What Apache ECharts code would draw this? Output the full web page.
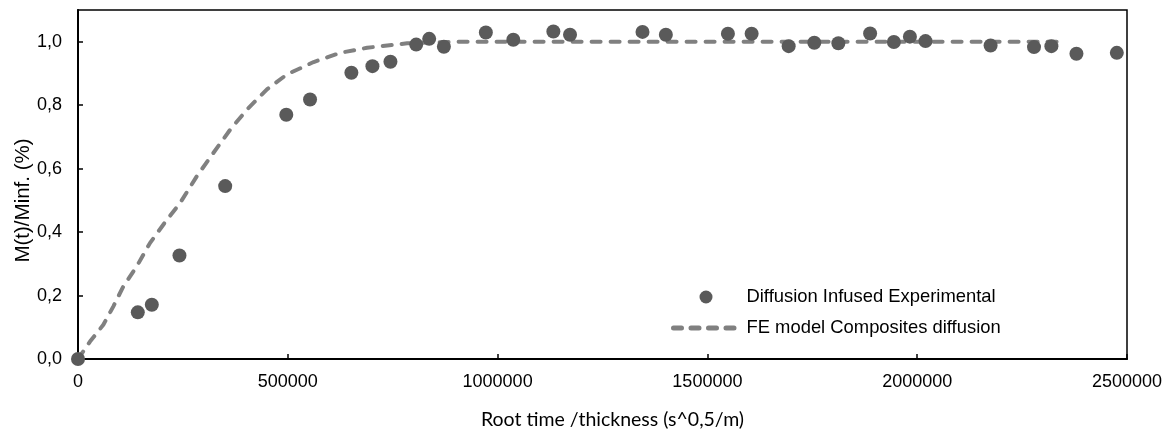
<!DOCTYPE html>
<html>
<head>
<meta charset="utf-8">
<script src="https://cdn.jsdelivr.net/npm/echarts@6/dist/echarts.min.js"></script>
<style>
html,body{margin:0;padding:0;background:#fff;}
#chart{width:1172px;height:435px;}
</style>
</head>
<body>
<div id="chart"></div>
<script>
var expX = [0, 142500, 175900, 241800, 350800, 496400, 553000, 651500, 701700, 744600,
  806000, 837000, 872000, 972000, 1037400, 1132900, 1172600, 1345300, 1401000, 1548900,
  1605400, 1693700, 1754800, 1812100, 1887800, 1944400, 1982600, 2019800, 2174900,
  2278400, 2319800, 2379500, 2475700];
var expY = [0, 0.147, 0.171, 0.326, 0.545, 0.770, 0.818, 0.902, 0.923, 0.937,
  0.991, 1.009, 0.984, 1.029, 1.006, 1.032, 1.022, 1.031, 1.022, 1.025,
  1.025, 0.986, 0.997, 0.995, 1.026, 0.999, 1.016, 1.002, 0.988,
  0.983, 0.986, 0.962, 0.965];
var modelX = [0, 28600, 60400, 84300, 108200, 140000, 171800, 208000, 243400, 283200,
  323000, 362800, 402600, 450300, 498000, 561600, 625300, 689000, 784400, 900000,
  1200000, 1600000, 2000000, 2356000];
var modelY = [0, 0.055, 0.108, 0.166, 0.229, 0.292, 0.366, 0.432, 0.492, 0.576,
  0.650, 0.723, 0.786, 0.850, 0.897, 0.936, 0.965, 0.981, 0.995, 1.0,
  1.0, 1.0, 1.0, 1.0];
var seriesNames = ['Diffusion Infused Experimental', 'FE model Composites diffusion'];
var xTitle = 'Root time /thickness (s^0,5/m)';
var yTitle = 'M(t)/Minf. (%)';

function pairs(xs, ys) { return xs.map(function (x, i) { return [x, ys[i]]; }); }

var chart = echarts.init(document.getElementById('chart'), null, {renderer: 'canvas'});
var font = 'Liberation Sans, Arial, sans-serif';
chart.setOption({
  animation: false,
  backgroundColor: '#fff',
  grid: {left: 78, right: 45, top: 10, bottom: 76, show: true, borderColor: '#000', borderWidth: 1.5,
    backgroundColor: 'transparent', outerBoundsMode: 'none', containLabel: false},
  xAxis: {
    type: 'value', min: 0, max: 2500000, interval: 500000,
    name: xTitle, nameLocation: 'middle', nameGap: 51, nameMoveOverlap: false,
    nameTextStyle: {fontFamily: 'Lato, Open Sans, sans-serif', fontSize: 19.5, color: '#000', padding: [0, 0, 0, 20]},
    axisLine: {show: true, onZero: false, lineStyle: {color: '#000', width: 2}},
    axisTick: {show: true, inside: true, length: 5, lineStyle: {color: '#000', width: 1.5}},
    axisLabel: {fontFamily: font, fontSize: 18, color: '#000', margin: 14, formatter: function (v) { return String(v); }},
    splitLine: {show: false}
  },
  yAxis: {
    type: 'value', min: 0, max: 1.1, interval: 0.2,
    name: yTitle, nameLocation: 'middle', nameGap: 44, nameRotate: 90, nameMoveOverlap: false,
    nameTextStyle: {fontFamily: font, fontSize: 20.5, color: '#000', padding: [0, 32, 0, 0]},
    axisLine: {show: true, onZero: false, lineStyle: {color: '#000', width: 2}},
    axisTick: {show: true, inside: true, length: 5, lineStyle: {color: '#000', width: 1.5}},
    axisLabel: {fontFamily: font, fontSize: 18, color: '#000', margin: 16, showMaxLabel: false,
      formatter: function (v) { return v > 1.05 ? '' : v.toFixed(1).replace('.', ','); }},
    splitLine: {show: false}
  },
  legend: {
    orient: 'vertical', left: 666, top: 283, itemWidth: 65, itemHeight: 13, itemGap: 13,
    textStyle: {fontFamily: font, fontSize: 18.4, color: '#000', padding: [0, 0, 0, 3]},
    data: [
      {name: seriesNames[0], icon: 'circle'},
      {name: seriesNames[1], itemStyle: {opacity: 0},
        lineStyle: {width: 5, type: [8, 9.5], cap: 'round', color: '#808080'}}
    ]
  },
  series: [
    {
      name: seriesNames[1], type: 'line', data: pairs(modelX, modelY),
      showSymbol: false, symbol: 'none', smooth: false, z: 2,
      lineStyle: {color: '#808080', width: 4, type: [9, 10], cap: 'round'},
      itemStyle: {color: '#808080'}
    },
    {
      name: seriesNames[0], type: 'scatter', data: pairs(expX, expY),
      symbol: 'circle', symbolSize: 14, z: 3,
      itemStyle: {color: '#5a5a5a', opacity: 1}
    }
  ]
});
</script>
</body>
</html>
